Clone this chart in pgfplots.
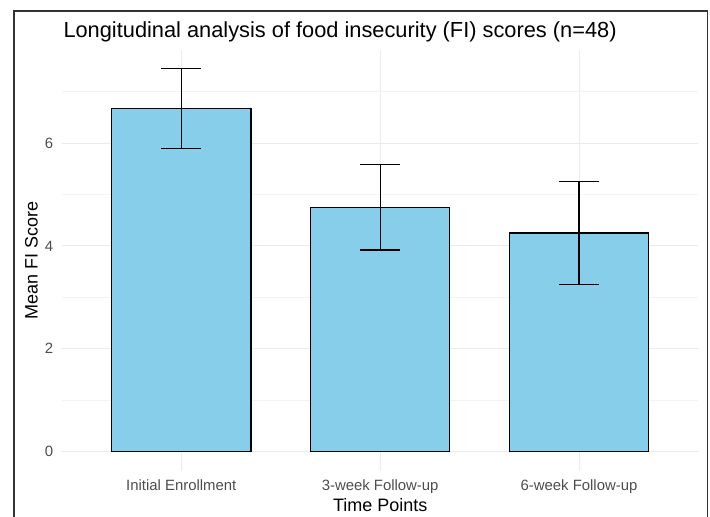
\documentclass[border=0pt]{standalone}
\usepackage{pgfplots}
\pgfplotsset{compat=1.18}
\usepackage{fontspec}
\setmainfont{Liberation Sans}
\definecolor{barfill}{HTML}{87CEEB}
\definecolor{gridmaj}{HTML}{EBEBEB}
\definecolor{gridmin}{HTML}{F3F3F3}
\definecolor{ticktext}{HTML}{4D4D4D}
\definecolor{frame}{HTML}{333333}
\begin{document}
\begin{tikzpicture}[x=1pt,y=1pt]
\useasboundingbox (0,0) rectangle (710,517);
\begin{axis}[
  at={(62pt,46.4pt)}, anchor=south west,
  scale only axis, width=636.3pt, height=420.6pt,
  xmin=0.4, xmax=3.6, ymin=-0.372, ymax=7.812,
  axis line style={draw=none}, clip=false,
  xtick={1,2,3},
  xticklabels={Initial Enrollment,3-week Follow-up,6-week Follow-up},
  ytick={0,2,4,6}, minor ytick={1,3,5,7},
  major tick length=0pt, minor tick length=0pt,
  tick style={draw=none},
  grid=both,
  major grid style={gridmaj, line width=0.9pt},
  minor grid style={gridmin, line width=0.5pt},
  /pgf/number format/assume math mode=true,
  tick label style={font=\fontsize{14.9}{16}\selectfont, text=ticktext},
  xticklabel style={anchor=base, inner sep=0pt, yshift=-20.1pt},
  yticklabel style={anchor=east, inner sep=0pt, xshift=-8.7pt},
]
\addplot[ybar, bar width=0.7, fill=barfill, draw=black, line width=1.3pt,
  error bars/.cd, y dir=both, y explicit,
  error bar style={draw=black, line width=1.3pt},
  error mark=-,
  error mark options={draw=black, line width=1.3pt, mark size=19.9pt, rotate=90}]
  coordinates {(1,6.67) +- (0,0.78) (2,4.75) +- (0,0.83) (3,4.25) +- (0,1.0)};
\end{axis}
\node[anchor=base west, inner sep=0pt, font=\fontsize{21.8}{24}\selectfont] at (63.3,479.7)
  {Longitudinal analysis of food insecurity (FI) scores (n=48)};
\node[anchor=base, inner sep=0pt, font=\fontsize{18}{20}\selectfont] at (380.2,5.5) {Time Points};
\node[rotate=90, inner sep=0pt, font=\fontsize{18}{20}\selectfont] at (31.5,256.7) {Mean FI Score};
\draw[frame, line width=1.6pt] (14,-2) -- (14,506) -- (707.5,506) -- (707.5,-2);
\end{tikzpicture}
\end{document}
